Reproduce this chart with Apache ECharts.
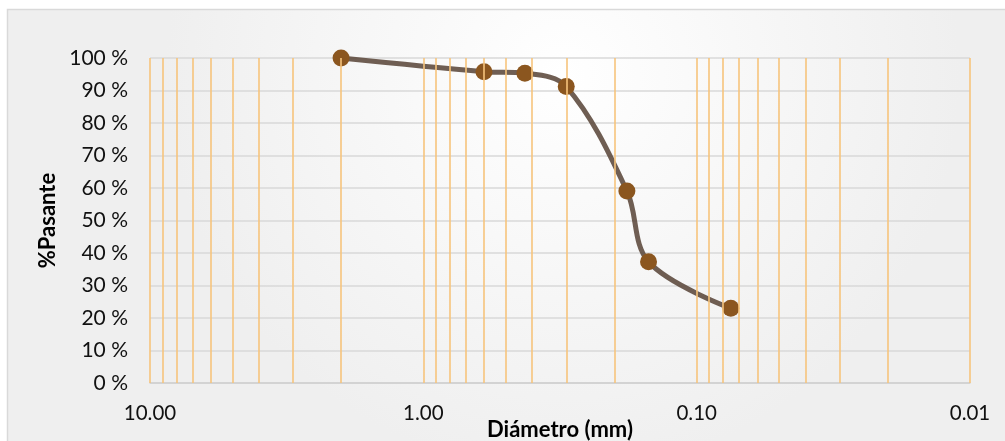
<!DOCTYPE html>
<html>
<head>
<meta charset="utf-8">
<script src="https://cdn.jsdelivr.net/npm/echarts@6/dist/echarts.min.js"></script>
<style>
html,body{margin:0;padding:0;background:#fff;overflow:hidden;}
#chart{width:1005px;height:441px;}
</style>
</head>
<body>
<div id="chart"></div>
<script>
// Data
const diametros = [2.0, 0.6, 0.425, 0.3, 0.18, 0.15, 0.075];
const pasante = [100, 95.8, 95.3, 91.2, 59.1, 37.3, 23.0];
// Log-grid values (vertical gridlines)
const gridValues = [10, 9, 8, 7, 6, 5, 4, 3, 2,
                    1, 0.9, 0.8, 0.7, 0.6, 0.5, 0.4, 0.3, 0.2,
                    0.1, 0.09, 0.08, 0.07, 0.06, 0.05, 0.04, 0.03, 0.02, 0.01];
const yTicks = [0, 10, 20, 30, 40, 50, 60, 70, 80, 90, 100];

const FONT = 'Lato, "Open Sans", sans-serif';
const chart = echarts.init(document.getElementById('chart'), null, {renderer: 'canvas'});

const points = diametros.map((d, i) => [d, pasante[i]]);

chart.setOption({
  animation: false,
  backgroundColor: '#ffffff',
  graphic: [{
    type: 'rect',
    z: -10,
    silent: true,
    shape: {x: 7.5, y: 9.5, width: 1010, height: 440},
    style: {
      fill: new echarts.graphic.RadialGradient(0.55, 0.15, 0.9, [
        {offset: 0, color: '#ffffff'},
        {offset: 1, color: '#efefef'}
      ]),
      stroke: '#d9d9d9',
      lineWidth: 1.5
    }
  }],
  grid: {left: 150, right: 35, top: 58, bottom: 58, containLabel: false, outerBoundsMode: 'none'},
  xAxis: {
    type: 'log',
    logBase: 10,
    min: 0.01,
    max: 10,
    inverse: true,
    name: 'Diámetro (mm)',
    nameLocation: 'middle',
    nameGap: 36,
    nameMoveOverlap: false,
    nameTextStyle: {fontFamily: FONT, fontWeight: 'bold', fontSize: 22, color: '#000'},
    axisLine: {show: true, lineStyle: {color: '#d0d0d0', width: 1.5}},
    axisTick: {show: false},
    splitLine: {show: false},
    axisLabel: {
      fontFamily: FONT, fontSize: 20.5, color: '#111', margin: 20,
      formatter: v => Number(v).toFixed(2)
    }
  },
  yAxis: {
    type: 'value',
    min: 0,
    max: 100,
    interval: 10,
    name: '%Pasante',
    nameLocation: 'middle',
    nameGap: 91,
    nameMoveOverlap: false,
    nameRotate: 90,
    nameTextStyle: {fontFamily: FONT, fontWeight: 'bold', fontSize: 22, color: '#000'},
    axisLine: {show: false},
    axisTick: {show: false},
    splitLine: {show: true, lineStyle: {color: '#d9d9d9', width: 1.5}},
    axisLabel: {
      fontFamily: FONT, fontSize: 21, color: '#111', margin: 22,
      formatter: v => v + ' %'
    }
  },
  series: [
    {
      type: 'line',
      data: [],
      z: 1,
      silent: true,
      markLine: {
        silent: true,
        symbol: ['none', 'none'],
        label: {show: false},
        lineStyle: {color: '#f7c47c', width: 1.6, type: 'solid'},
        data: gridValues.map(v => ({xAxis: v}))
      }
    },
    {
      type: 'line',
      data: points,
      z: 3,
      smooth: 0.35,
      symbol: 'circle',
      symbolSize: 17,
      lineStyle: {color: 'rgba(95,76,64,0.9)', width: 5},
      itemStyle: {color: '#8b561f', borderWidth: 0}
    }
  ]
});
</script>
</body>
</html>
